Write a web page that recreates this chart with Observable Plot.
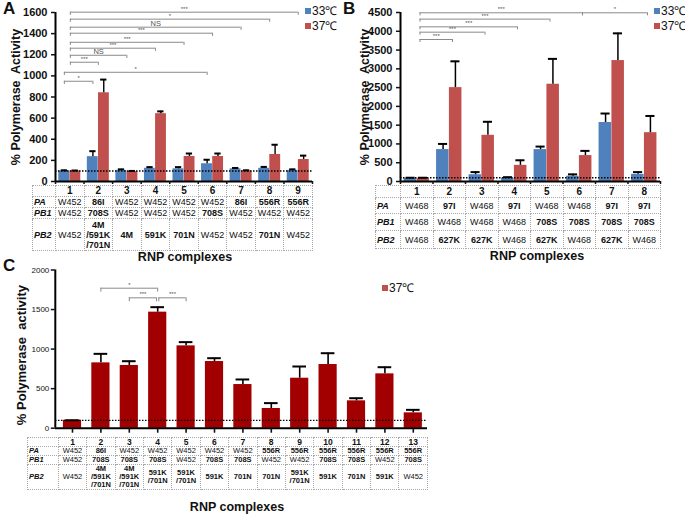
<!DOCTYPE html>
<html><head><meta charset="utf-8">
<script src="https://cdn.jsdelivr.net/npm/d3@7"></script>
<script src="https://cdn.jsdelivr.net/npm/@observablehq/plot@0.6"></script>
<style>
body{margin:0;background:#fff;}
#root{position:relative;width:685px;height:515px;overflow:hidden;font-family:"Liberation Sans",Arial,sans-serif;color:#111;}
.abs{position:absolute;}
.plab{position:absolute;font-weight:bold;font-size:17px;font-family:"Liberation Sans",Arial,sans-serif;}
.xlab{position:absolute;font-weight:bold;font-size:12.5px;text-align:center;white-space:nowrap;transform:translateX(-50%);}
.leg{position:absolute;font-size:12px;white-space:nowrap;line-height:13px;}
.leg span.sw{display:inline-block;width:6px;height:6px;margin-right:1px;vertical-align:1px;}
table.t{position:absolute;border-collapse:collapse;table-layout:fixed;color:#111;font-family:"Liberation Sans",Arial,sans-serif;}
table.t td{border:1px dotted #a8a8a8;text-align:center;padding:0;white-space:nowrap;overflow:visible;}
table.t td.rl{font-weight:bold;font-style:italic;text-align:left;padding-left:1px;}
table.t td.mut{font-weight:bold;}
table.t td.hd{font-weight:bold;}
svg{position:absolute;overflow:visible;}
</style></head>
<body><div id="root"></div>
<script>
// ---------- data ----------
const blue = "#4F81BD", red = "#C0504D", darkRed = "#A20000", gray = "#8a8a8a";
const tempLabels = ["33℃", "37℃"];

// Panel A
const groupsA = [1,2,3,4,5,6,7,8,9];
const a33 = [100,235,105,125,120,168,120,125,105];
const a33Err = [106,287,115,136,136,206,128,138,115];
const a37 = [100,840,95,642,237,237,100,256,208];
const a37Err = [104,965,100,664,265,265,106,348,245];
const paA = ["W452","86I","W452","W452","W452","W452","86I","556R","556R"];
const pb1A = ["W452","708S","W452","W452","W452","708S","W452","W452","W452"];
const pb2A = ["W452","4M/591K/701N","4M","591K","701N","W452","W452","701N","W452"];
const bracketFromA = [1,1,1,1,1,1,1,1,1,1];
const bracketToA =   [9,8,7,6,5,4,3,2,6,2];
const bracketYA =    [1603,1537,1461,1404,1318,1262,1195,1129,1034,949];
const bracketLabA =  ["***","*","NS","***","***","***","NS","***","*","*"];
const bracketTempA = ["37","37","37","37","37","37","37","37","33","33"];
const yTicksA = [0,200,400,600,800,1000,1200,1400,1600];

// Panel B
const groupsB = [1,2,3,4,5,6,7,8];
const b33 = [75,850,180,90,850,140,1570,190];
const b33Err = [100,1000,250,115,930,190,1810,250];
const b37 = [75,2500,1230,430,2590,690,3220,1300];
const b37Err = [100,3200,1590,565,3265,815,3945,1745];
const paB = ["W468","97I","W468","97I","W468","W468","97I","97I"];
const pb1B = ["W468","W468","W468","W468","708S","708S","708S","708S"];
const pb2B = ["W468","627K","627K","W468","627K","W468","627K","W468"];
const bracketFromB = [1,6,1,1,1,1];
const bracketToB =   [6,8,5,4,3,2];
const bracketYB =    [4492,4492,4324,4118,3976,3781];
const bracketLabB =  ["***","*","***","***","***","***"];
const yTicksB = [0,500,1000,1500,2000,2500,3000,3500,4000,4500];

// Panel C
const groupsC = [1,2,3,4,5,6,7,8,9,10,11,12,13];
const c37 = [100,826,793,1467,1041,843,552,249,632,805,346,687,194];
const c37Err = [100,940,847,1530,1088,885,616,317,780,948,379,771,232];
const paC = ["W452","86I","W452","W452","W452","W452","W452","556R","556R","556R","556R","556R","556R"];
const pb1C = ["W452","708S","708S","708S","W452","708S","708S","W452","W452","708S","708S","W452","708S"];
const pb2C = ["W452","4M/591K/701N","4M/591K/701N","591K/701N","591K/701N","591K","701N","701N","591K/701N","591K","701N","591K","W452"];
const bracketFromC = [2,3,4];
const bracketToC =   [4,4,5];
const bracketYC =    [1770,1648,1648];
const bracketLabC =  ["*","***","***"];
const yTicksC = [0,500,1000,1500,2000];

const rowLabels = ["PA","PB1","PB2"];
const xTitle = "RNP complexes";
const yTitleAB = "% Polymerase  Activity";
const yTitleC = "% Polymerase  activity";

// ---------- helpers ----------
const root = document.getElementById("root");
const FONT = "'Liberation Sans', Arial, sans-serif";

function bracketMarks(from, to, ys, labs, posFrom, posTo, delta, fs) {
  const idx = ys.map((_, i) => i);
  return [
    Plot.ruleY(idx, {y: i => ys[i], x1: i => posFrom(i), x2: i => posTo(i), stroke: gray, strokeWidth: 1}),
    Plot.ruleX(idx, {x: i => posFrom(i), y1: i => ys[i], y2: i => ys[i] - delta, stroke: gray, strokeWidth: 1}),
    Plot.ruleX(idx, {x: i => posTo(i), y1: i => ys[i], y2: i => ys[i] - delta, stroke: gray, strokeWidth: 1}),
    Plot.text(idx, {x: i => (posFrom(i) + posTo(i)) / 2, y: i => ys[i], text: i => labs[i], dy: -3.5, fontSize: i => labs[i] === "NS" ? fs + 1.5 : fs, fill: "#555", fontFamily: FONT})
  ];
}

function place(svg, left, top) {
  svg.style.left = left + "px";
  svg.style.top = top + "px";
  root.appendChild(svg);
}

function makeTable(left, top, firstW, colW, rowH, fs, lh, groups, rows) {
  const t = document.createElement("table");
  t.className = "t";
  t.style.left = left + "px"; t.style.top = top + "px";
  t.style.width = (firstW + colW * groups.length) + "px";
  t.style.fontSize = fs + "px";
  const cg = document.createElement("colgroup");
  [firstW, ...groups.map(() => colW)].forEach(w => {
    const c = document.createElement("col"); c.style.width = w + "px"; cg.appendChild(c);
  });
  t.appendChild(cg);
  const hr = document.createElement("tr");
  hr.style.height = rowH[0] + "px";
  hr.appendChild(document.createElement("td"));
  groups.forEach(g => {
    const td = document.createElement("td"); td.className = "hd"; td.textContent = g;
    td.style.lineHeight = lh + "px"; td.style.fontSize = (fs + 1) + "px"; hr.appendChild(td);
  });
  t.appendChild(hr);
  rows.forEach((vals, r) => {
    const tr = document.createElement("tr");
    tr.style.height = rowH[r + 1] + "px";
    const l = document.createElement("td"); l.className = "rl"; l.textContent = rowLabels[r];
    l.style.lineHeight = lh + "px";
    tr.appendChild(l);
    vals.forEach(v => {
      const td = document.createElement("td");
      if (!v.startsWith("W")) td.className = "mut";
      td.style.lineHeight = lh + "px";
      td.innerHTML = v.split("/").map((s, i) => (i ? "/" : "") + s).join("<br>");
      tr.appendChild(td);
    });
    t.appendChild(tr);
  });
  root.appendChild(t);
}

function addDiv(cls, html, left, top, extra) {
  const d = document.createElement("div");
  d.className = cls; d.innerHTML = html;
  d.style.left = left + "px"; d.style.top = top + "px";
  if (extra) Object.assign(d.style, extra);
  root.appendChild(d);
}

// ---------- Panel A ----------
{
  const svg = Plot.plot({
    width: 340, height: 190, marginLeft: 55, marginRight: 28, marginTop: 12, marginBottom: 9,
    x: {domain: [0.5, 9.5], axis: null},
    y: {domain: [0, 1600], axis: null},
    style: {fontFamily: FONT, background: "transparent", overflow: "visible"},
    marks: [
      Plot.rect(groupsA, {x1: g => g - 0.385, x2: g => g - 0.005, y1: 0, y2: (g, i) => a33[i], fill: blue}),
      Plot.rect(groupsA, {x1: g => g + 0.005, x2: g => g + 0.385, y1: 0, y2: (g, i) => a37[i], fill: red}),
      Plot.ruleX(groupsA, {x: g => g - 0.19, y1: (g, i) => a33[i], y2: (g, i) => a33Err[i], stroke: "#000", strokeWidth: 1.4}),
      Plot.ruleY(groupsA, {y: (g, i) => a33Err[i], x1: g => g - 0.3, x2: g => g - 0.08, stroke: "#000", strokeWidth: 2}),
      Plot.ruleX(groupsA, {x: g => g + 0.19, y1: (g, i) => a37[i], y2: (g, i) => a37Err[i], stroke: "#000", strokeWidth: 1.4}),
      Plot.ruleY(groupsA, {y: (g, i) => a37Err[i], x1: g => g + 0.08, x2: g => g + 0.3, stroke: "#000", strokeWidth: 2}),
      Plot.ruleY([100], {x1: 0.5, x2: 9.5, stroke: "#000", strokeWidth: 1.5, strokeDasharray: "1.5,1.5"}),
      Plot.ruleX([0.5], {y1: 0, y2: 1600, stroke: "#000", strokeWidth: 2}),
      Plot.ruleY([0], {x1: 0.5, x2: 9.5, stroke: "#000", strokeWidth: 2}),
      Plot.axisY({ticks: yTicksA, tickSize: 4, tickPadding: 4, tickFormat: d => String(d), fontWeight: "bold", fontSize: 11, label: null, strokeWidth: 1.5}),
      Plot.axisX({ticks: [0.5,1.5,2.5,3.5,4.5,5.5,6.5,7.5,8.5,9.5], tickSize: 3, tickFormat: () => "", label: null, strokeWidth: 1.5}),
      Plot.text([yTitleAB], {frameAnchor: "left", textAnchor: "middle", rotate: -90, dx: -40, fontWeight: "bold", fontSize: 12.5, fontFamily: FONT}),
      ...bracketMarks(bracketFromA, bracketToA, bracketYA, bracketLabA,
        i => bracketFromA[i] + (bracketTempA[i] === "33" ? -0.19 : 0.02),
        i => bracketToA[i] + (bracketTempA[i] === "33" ? -0.19 : 0), 30, 6)
    ]
  });
  place(svg, 0, 0);
  makeTable(32, 185, 23, 28.56, [11, 10, 11, 32], 9, 10, groupsA, [paA, pb1A, pb2A]);
  addDiv("xlab", xTitle, 185, 250);
  addDiv("plab", "A", 3, -1);
  addDiv("leg", `<span class="sw" style="background:${blue}"></span>${tempLabels[0]}`, 305, 5);
  addDiv("leg", `<span class="sw" style="background:${red}"></span>${tempLabels[1]}`, 305, 20);
}

// ---------- Panel B ----------
{
  const svg = Plot.plot({
    width: 345, height: 191, marginLeft: 60, marginRight: 25, marginTop: 12, marginBottom: 10,
    x: {domain: [0.5, 8.5], axis: null},
    y: {domain: [0, 4500], axis: null},
    style: {fontFamily: FONT, background: "transparent", overflow: "visible"},
    marks: [
      Plot.rect(groupsB, {x1: g => g - 0.39, x2: g => g - 0.005, y1: 0, y2: (g, i) => b33[i], fill: blue}),
      Plot.rect(groupsB, {x1: g => g + 0.005, x2: g => g + 0.39, y1: 0, y2: (g, i) => b37[i], fill: red}),
      Plot.ruleX(groupsB, {x: g => g - 0.19, y1: (g, i) => b33[i], y2: (g, i) => b33Err[i], stroke: "#000", strokeWidth: 1.5}),
      Plot.ruleY(groupsB, {y: (g, i) => b33Err[i], x1: g => g - 0.33, x2: g => g - 0.05, stroke: "#000", strokeWidth: 2}),
      Plot.ruleX(groupsB, {x: g => g + 0.19, y1: (g, i) => b37[i], y2: (g, i) => b37Err[i], stroke: "#000", strokeWidth: 1.5}),
      Plot.ruleY(groupsB, {y: (g, i) => b37Err[i], x1: g => g + 0.05, x2: g => g + 0.33, stroke: "#000", strokeWidth: 2}),
      Plot.ruleY([100], {x1: 0.5, x2: 8.5, stroke: "#000", strokeWidth: 1.5, strokeDasharray: "1.5,1.5"}),
      Plot.ruleX([0.5], {y1: 0, y2: 4500, stroke: "#000", strokeWidth: 2}),
      Plot.ruleY([0], {x1: 0.5, x2: 8.5, stroke: "#000", strokeWidth: 2}),
      Plot.axisY({ticks: yTicksB, tickSize: 4, tickPadding: 4, tickFormat: d => String(d), fontWeight: "bold", fontSize: 11, label: null, strokeWidth: 1.5}),
      Plot.axisX({ticks: [0.5,1.5,2.5,3.5,4.5,5.5,6.5,7.5,8.5], tickSize: 3, tickFormat: () => "", label: null, strokeWidth: 1.5}),
      Plot.text([yTitleAB], {frameAnchor: "left", textAnchor: "middle", rotate: -90, dx: -36, fontWeight: "bold", fontSize: 12.5, fontFamily: FONT}),
      ...bracketMarks(bracketFromB, bracketToB, bracketYB, bracketLabB,
        i => bracketFromB[i] + 0.1, i => bracketToB[i] + 0.1, 80, 6)
    ]
  });
  place(svg, 340, 0);
  makeTable(375, 185, 25, 32.5, [12, 16, 17, 18], 9, 10, groupsB, [paB, pb1B, pb2B]);
  addDiv("xlab", xTitle, 537, 249);
  addDiv("plab", "B", 343, -1);
  addDiv("leg", `<span class="sw" style="background:${blue}"></span>${tempLabels[0]}`, 654, 5);
  addDiv("leg", `<span class="sw" style="background:${red}"></span>${tempLabels[1]}`, 654, 20);
}

// ---------- Panel C ----------
{
  const svg = Plot.plot({
    width: 440, height: 186, marginLeft: 57.8, marginRight: 13, marginTop: 19.5, marginBottom: 8.3,
    x: {domain: [0.5, 13.5], axis: null},
    y: {domain: [0, 2000], axis: null},
    style: {fontFamily: FONT, background: "transparent", overflow: "visible"},
    marks: [
      Plot.rect(groupsC, {x1: g => g - 0.32, x2: g => g + 0.32, y1: 0, y2: (g, i) => c37[i], fill: darkRed}),
      Plot.ruleX(groupsC, {x: g => g, y1: (g, i) => c37[i], y2: (g, i) => c37Err[i], stroke: "#000", strokeWidth: 1.6}),
      Plot.ruleY(groupsC, {y: (g, i) => c37Err[i], x1: g => g - 0.24, x2: g => g + 0.24, stroke: "#000", strokeWidth: 2}),
      Plot.ruleY([100], {x1: 0.4, x2: 13.5, stroke: "#000", strokeWidth: 1.3, strokeDasharray: "1.5,1.5"}),
      Plot.ruleX([0.5], {y1: 0, y2: 2000, dx: -3, stroke: "#000", strokeWidth: 2}),
      Plot.ruleY([0], {x1: 0.4, x2: 13.5, stroke: "#000", strokeWidth: 2}),
      Plot.axisY({ticks: yTicksC, tickSize: 4, tickPadding: 2, dx: -3, tickFormat: d => String(d), fontSize: 8, label: null, strokeWidth: 1.5}),
      Plot.axisX({ticks: groupsC, tickSize: 5, tickFormat: () => "", label: null, strokeWidth: 1.6}),
      Plot.text([yTitleC], {frameAnchor: "left", textAnchor: "middle", rotate: -90, dx: -36, dy: 6, fontWeight: "bold", fontSize: 13, fontFamily: FONT}),
      ...bracketMarks(bracketFromC, bracketToC, bracketYC, bracketLabC,
        i => bracketFromC[i] + (i === 2 ? 0.04 : 0), i => bracketToC[i] - (i === 1 ? 0.04 : 0), 50, 6)
    ]
  });
  place(svg, 0, 250);
  makeTable(27, 437, 30.8, 28.4, [9, 8, 8, 25], 7.5, 8, groupsC, [paC, pb1C, pb2C]);
  addDiv("xlab", xTitle, 237, 500);
  addDiv("plab", "C", 3, 256);
  addDiv("leg", `<span class="sw" style="background:${red}"></span>${tempLabels[1]}`, 382, 282);
}
</script></body></html>
